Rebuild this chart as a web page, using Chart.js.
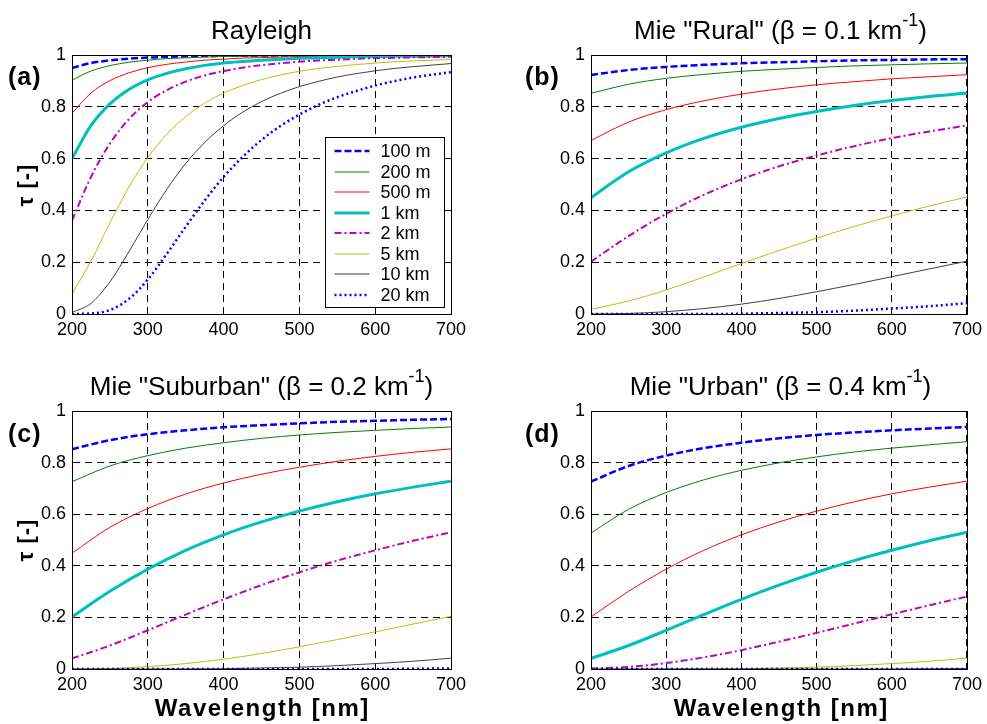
<!DOCTYPE html>
<html><head><meta charset="utf-8">
<script src="https://cdn.jsdelivr.net/npm/chart.js@4.4.1/dist/chart.umd.min.js"></script>
<style>
html,body{margin:0;padding:0;background:#fff;}
#wrap{position:relative;width:987px;height:724px;overflow:hidden;background:#fff;font-family:"Liberation Sans",Arial,Helvetica,sans-serif;color:#000;}
canvas{position:absolute;}
.t{position:absolute;white-space:nowrap;line-height:1;color:#000;}
.title{font-size:26px;text-align:center;width:400px;}
.sup{font-size:18px;position:relative;top:-13px;}
.lab{font-size:25px;font-weight:bold;letter-spacing:1px;}
.xt{font-size:24px;font-weight:bold;letter-spacing:1.5px;text-align:center;width:300px;padding-left:1.5px;box-sizing:border-box;}
.yt{font-size:22px;font-weight:bold;letter-spacing:1px;text-align:center;width:80px;height:22px;line-height:22px;transform:rotate(-90deg);}
</style></head><body>
<div id="wrap">
<canvas id="ca" width="490" height="340" style="left:0;top:0"></canvas>
<canvas id="cb" width="497" height="340" style="left:490px;top:0"></canvas>
<canvas id="cc" width="490" height="384" style="left:0;top:340px"></canvas>
<canvas id="cd" width="497" height="384" style="left:490px;top:340px"></canvas>

<div class="t title" style="left:61.5px;top:16.5px">Rayleigh</div>
<div class="t title" style="left:580.5px;top:16.5px">Mie &quot;Rural&quot; (β = 0.1 km<span class="sup">-1</span>)</div>
<div class="t title" style="left:61.5px;top:373px">Mie &quot;Suburban&quot; (β = 0.2 km<span class="sup">-1</span>)</div>
<div class="t title" style="left:580.5px;top:373px">Mie &quot;Urban&quot; (β = 0.4 km<span class="sup">-1</span>)</div>

<div class="t lab" style="left:8px;top:64px">(a)</div>
<div class="t lab" style="left:525px;top:64px">(b)</div>
<div class="t lab" style="left:8px;top:421px">(c)</div>
<div class="t lab" style="left:525px;top:421px">(d)</div>

<div class="t yt" style="left:-14px;top:173.5px">τ [-]</div>
<div class="t yt" style="left:-14px;top:529px">τ [-]</div>
<div class="t xt" style="left:111.5px;top:696px">Wavelength [nm]</div>
<div class="t xt" style="left:630.5px;top:696px">Wavelength [nm]</div>
</div>
<script>
// ---------------- data ----------------
const seriesLabels = ['100 m','200 m','500 m','1 km','2 km','5 km','10 km','20 km'];
const xTickLabels = ['200','300','400','500','600','700'];
const yTickLabels = ['0','0.2','0.4','0.6','0.8','1'];

// Rayleigh panel wavelengths [nm]
const wlRayleigh = [200,225,250,275,300,325,350,375,400,425,450,475,500,525,550,575,600,625,650,675,700];
const ray100m = [0.950,0.969,0.979,0.986,0.990,0.993,0.995,0.996,0.997,0.997,0.998,0.998,0.999,0.999,0.999,0.999,0.999,0.999,1.000,1.000,1.000];
const ray200m = [0.903,0.938,0.959,0.972,0.980,0.986,0.989,0.992,0.994,0.995,0.996,0.997,0.997,0.998,0.998,0.998,0.999,0.999,0.999,0.999,0.999];
const ray500m = [0.775,0.853,0.901,0.931,0.951,0.964,0.973,0.980,0.984,0.988,0.990,0.992,0.994,0.995,0.996,0.996,0.997,0.997,0.998,0.998,0.998];
const ray1km  = [0.600,0.727,0.811,0.867,0.904,0.929,0.947,0.960,0.969,0.975,0.980,0.984,0.987,0.989,0.991,0.993,0.994,0.995,0.995,0.996,0.997];
const ray2km  = [0.361,0.529,0.658,0.752,0.818,0.864,0.897,0.921,0.938,0.951,0.961,0.968,0.974,0.979,0.982,0.985,0.988,0.989,0.991,0.992,0.993];
const ray5km  = [0.078,0.204,0.352,0.490,0.604,0.694,0.762,0.814,0.853,0.882,0.905,0.923,0.937,0.948,0.956,0.963,0.969,0.974,0.977,0.980,0.983];
const ray10km = [0.006,0.041,0.124,0.240,0.365,0.481,0.581,0.662,0.727,0.779,0.820,0.852,0.878,0.898,0.915,0.928,0.939,0.948,0.955,0.961,0.967];
const ray20km = [0.000,0.002,0.015,0.058,0.133,0.232,0.337,0.438,0.529,0.606,0.672,0.726,0.770,0.807,0.837,0.861,0.882,0.899,0.913,0.924,0.934];

// Mie panels wavelengths [nm]
const wlMie = [200,250,300,350,400,450,500,550,600,650,700];
// Rural
const rural100m = [0.923,0.942,0.954,0.962,0.968,0.972,0.976,0.979,0.981,0.983,0.984];
const rural200m = [0.852,0.887,0.910,0.925,0.937,0.945,0.952,0.958,0.962,0.966,0.969];
const rural500m = [0.670,0.741,0.789,0.823,0.849,0.869,0.885,0.897,0.908,0.916,0.924];
const rural1km  = [0.449,0.549,0.622,0.678,0.721,0.755,0.782,0.805,0.824,0.840,0.853];
const rural2km  = [0.202,0.301,0.387,0.460,0.520,0.570,0.612,0.648,0.679,0.705,0.728];
const rural5km  = [0.018,0.050,0.093,0.143,0.195,0.245,0.293,0.338,0.379,0.417,0.452];
const rural10km = [0.000,0.002,0.009,0.021,0.038,0.060,0.086,0.114,0.144,0.174,0.204];
const rural20km = [0.000,0.000,0.000,0.000,0.001,0.004,0.007,0.013,0.021,0.030,0.042];
// Suburban
const sub100m = [0.852,0.887,0.910,0.925,0.937,0.945,0.952,0.958,0.962,0.966,0.969];
const sub200m = [0.726,0.787,0.827,0.856,0.877,0.894,0.907,0.917,0.925,0.932,0.938];
const sub500m = [0.449,0.549,0.622,0.678,0.721,0.755,0.782,0.805,0.824,0.840,0.853];
const sub1km  = [0.202,0.301,0.387,0.460,0.520,0.570,0.612,0.648,0.679,0.705,0.728];
const sub2km  = [0.041,0.091,0.150,0.211,0.270,0.325,0.375,0.420,0.460,0.497,0.530];
const sub5km  = [0.000,0.002,0.009,0.021,0.038,0.060,0.086,0.114,0.144,0.174,0.204];
const sub10km = [0.000,0.000,0.000,0.000,0.001,0.004,0.007,0.013,0.021,0.030,0.042];
const sub20km = [0.000,0.000,0.000,0.000,0.000,0.000,0.000,0.000,0.000,0.001,0.002];
// Urban
const urb100m = [0.726,0.787,0.827,0.856,0.877,0.894,0.907,0.917,0.925,0.932,0.938];
const urb200m = [0.527,0.619,0.684,0.733,0.770,0.799,0.822,0.841,0.856,0.869,0.881];
const urb500m = [0.202,0.301,0.387,0.460,0.520,0.570,0.612,0.648,0.679,0.705,0.728];
const urb1km  = [0.041,0.091,0.150,0.211,0.270,0.325,0.375,0.420,0.460,0.497,0.530];
const urb2km  = [0.002,0.008,0.023,0.045,0.073,0.106,0.140,0.176,0.212,0.247,0.281];
const urb5km  = [0.000,0.000,0.000,0.000,0.001,0.004,0.007,0.013,0.021,0.030,0.042];
const urb10km = [0.000,0.000,0.000,0.000,0.000,0.000,0.000,0.000,0.000,0.001,0.002];
const urb20km = [0.000,0.000,0.000,0.000,0.000,0.000,0.000,0.000,0.000,0.000,0.000];

// ---------------- styles ----------------
const lineStyles = [
  {color:'#0000ff', width:2.5, dash:[7,3]},
  {color:'#008000', width:1,   dash:[]},
  {color:'#ff0000', width:1,   dash:[]},
  {color:'#00bfbf', width:3,   dash:[]},
  {color:'#bf00bf', width:2,   dash:[7,3,2,3]},
  {color:'#bfbf00', width:1,   dash:[]},
  {color:'#404040', width:1,   dash:[]},
  {color:'#0000ff', width:2.5, dash:[2,3]}
];
const FONT = '"Liberation Sans", Arial, Helvetica, sans-serif';
Chart.defaults.font.family = FONT;
Chart.defaults.color = '#000';

function drawLegend(chart) {
  const {ctx, chartArea: a} = chart;
  const w = 119, h = 170;
  const x0 = Math.round(a.right - 7 - w) + 0.5, y0 = Math.round(a.bottom - 7 - h) + 0.5;
  ctx.save();
  ctx.fillStyle = '#fff'; ctx.fillRect(x0, y0, w, h);
  ctx.strokeStyle = '#000'; ctx.lineWidth = 1; ctx.setLineDash([]);
  ctx.strokeRect(x0, y0, w, h);
  ctx.font = '18px ' + FONT;
  ctx.textBaseline = 'middle';
  chart.data.datasets.forEach((ds, i) => {
    const y = Math.round(y0 + 13.7 + i * 20.5);
    ctx.beginPath();
    ctx.strokeStyle = ds.borderColor; ctx.lineWidth = ds.borderWidth;
    ctx.setLineDash(ds.borderDash || []);
    ctx.moveTo(x0 + 9, y); ctx.lineTo(x0 + 44, y); ctx.stroke();
    ctx.fillStyle = '#000';
    ctx.fillText(ds.label, x0 + 55, y + 1);
  });
  ctx.restore();
}

const framePlugin = {
  id: 'frame',
  afterDatasetsDraw(chart, args, opts) {
    const {ctx, chartArea: a} = chart;
    ctx.save();
    ctx.strokeStyle = '#000'; ctx.lineWidth = 1; ctx.setLineDash([]);
    ctx.strokeRect(Math.round(a.left) + 0.5, Math.round(a.top) + 0.5,
                   Math.round(a.right - a.left), Math.round(a.bottom - a.top));
    ctx.restore();
    if (opts.legend) drawLegend(chart);
  }
};

function makeChart(id, xs, seriesList, pad, showLegend) {
  const datasets = seriesList.map((ys, i) => ({
    label: seriesLabels[i],
    data: xs.map((x, j) => ({x: x, y: ys[j]})),
    borderColor: lineStyles[i].color,
    borderWidth: lineStyles[i].width,
    borderDash: lineStyles[i].dash,
    pointRadius: 0,
    fill: false,
    cubicInterpolationMode: 'monotone',
    order: 8 - i
  }));
  return new Chart(document.getElementById(id), {
    type: 'line',
    data: {datasets},
    options: {
      responsive: false,
      animation: false,
      events: [],
      layout: {padding: pad},
      plugins: {legend: {display: false}, tooltip: {enabled: false}, frame: {legend: showLegend}},
      scales: {
        x: {
          type: 'linear', min: 200, max: 700,
          grid: {color: '#000', lineWidth: 1, drawTicks: false},
          border: {display: true, color: '#000', width: 1, dash: [7, 5]},
          ticks: {stepSize: 100, autoSkip: false, maxRotation: 0, padding: 5,
                  font: {size: 18}, color: '#000',
                  callback: (v, i) => xTickLabels[i]},
          afterFit: s => { s.height = 26; }
        },
        y: {
          type: 'linear', min: 0, max: 1,
          grid: {color: '#000', lineWidth: 1, drawTicks: false},
          border: {display: true, color: '#000', width: 1, dash: [7, 5]},
          ticks: {stepSize: 0.2, autoSkip: false, padding: 6,
                  font: {size: 18}, color: '#000',
                  callback: (v, i) => yTickLabels[i]},
          afterFit: s => { s.width = 60; }
        }
      }
    },
    plugins: [framePlugin]
  });
}

makeChart('ca', wlRayleigh, [ray100m, ray200m, ray500m, ray1km, ray2km, ray5km, ray10km, ray20km],
          {left: 12, top: 55, right: 39, bottom: 0}, true);
makeChart('cb', wlMie, [rural100m, rural200m, rural500m, rural1km, rural2km, rural5km, rural10km, rural20km],
          {left: 41, top: 55, right: 17, bottom: 0}, false);
makeChart('cc', wlMie, [sub100m, sub200m, sub500m, sub1km, sub2km, sub5km, sub10km, sub20km],
          {left: 12, top: 71, right: 39, bottom: 29}, false);
makeChart('cd', wlMie, [urb100m, urb200m, urb500m, urb1km, urb2km, urb5km, urb10km, urb20km],
          {left: 41, top: 71, right: 17, bottom: 29}, false);
</script>
</body></html>
